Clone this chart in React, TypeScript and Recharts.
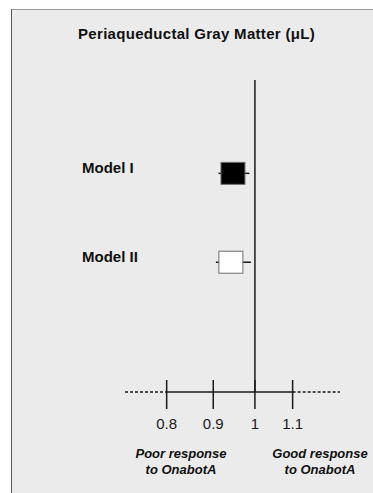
import React from 'react';
import { ScatterChart, Scatter, XAxis, YAxis, ReferenceLine, ErrorBar } from 'recharts';

const models = ['Model I', 'Model II'];
const estimates = [0.946, 0.941];
const lows = [0.912, 0.906];
const highs = [0.986, 0.99];
const rowPositions = [2, 1];
const boxFills = ['#000000', '#ffffff'];
const xTicks = [0.8, 0.9, 1, 1.1];
const xDomain = [0.72, 1.24];
const yDomain = [-0.46, 3.05];

const data = models.map((m, i) => ({
  model: m,
  x: estimates[i],
  y: rowPositions[i],
  err: [estimates[i] - lows[i], highs[i] - estimates[i]],
  fill: boxFills[i],
}));

const FONT = '"Liberation Sans", Arial, Helvetica, sans-serif';

const BoxShape = (props: any) => {
  const { cx, cy, payload } = props;
  return (
    <rect
      x={cx - 12}
      y={cy - 11}
      width={24}
      height={22}
      fill={payload.fill}
      stroke="#6e6e6e"
      strokeWidth={1}
    />
  );
};

const XTick = (props: any) => {
  const { x, y, payload } = props;
  return (
    <g>
      <line x1={x} x2={x} y1={y - 12} y2={y + 17} stroke="#1a1a1a" strokeWidth={1.5} />
      <text x={x} y={y + 37} textAnchor="middle" fontSize={15} fontFamily={FONT} fill="#1a1a1a">
        {String(payload.value)}
      </text>
    </g>
  );
};

const YTick = (props: any) => {
  const { y, payload } = props;
  const idx = rowPositions.indexOf(payload.value);
  return (
    <text x={82} y={y} textAnchor="start" fontSize={15} fontWeight="bold" fontFamily={FONT} fill="#111">
      {idx >= 0 ? models[idx] : ''}
    </text>
  );
};

export default function App() {
  return (
    <div style={{ position: 'absolute', left: 0, top: 0, width: 373, height: 493, background: '#ffffff', overflow: 'hidden' }}>
      <div
        style={{
          position: 'absolute',
          left: 11,
          top: 9,
          width: 362,
          height: 484,
          background: '#ebebeb',
          borderLeft: '1.5px solid #555',
          borderTop: '1px solid #999',
          boxSizing: 'border-box',
        }}
      />
      <svg width={373} height={493} style={{ position: 'absolute', left: 0, top: 0 }}>
        <text x={196.5} y={38.5} textAnchor="middle" fontSize={15} fontWeight="bold" fontFamily={FONT} letterSpacing={0.3} fill="#111">
          Periaqueductal Gray Matter (μL)
        </text>
        <g fontFamily={FONT} fontSize={13} fontWeight="bold" fontStyle="italic" fill="#111" textAnchor="middle">
          <text x={181} y={457.5}>Poor response</text>
          <text x={181} y={473.5}>to OnabotA</text>
          <text x={320} y={457.5}>Good response</text>
          <text x={320} y={473.5}>to OnabotA</text>
        </g>
      </svg>
      <div style={{ position: 'absolute', left: 0, top: 0 }}>
        <ScatterChart width={373} height={493} margin={{ top: 80, right: 33, bottom: 0, left: 0 }}>
          <XAxis
            type="number"
            dataKey="x"
            scale="log"
            domain={xDomain}
            ticks={xTicks}
            allowDataOverflow
            axisLine={false}
            tickLine={false}
            tickSize={0}
            tickMargin={0}
            height={101}
            tick={<XTick />}
            interval={0}
          />
          <YAxis
            type="number"
            dataKey="y"
            domain={yDomain}
            ticks={rowPositions}
            allowDataOverflow
            axisLine={false}
            tickLine={false}
            width={125}
            tick={<YTick />}
            interval={0}
          />
          <ReferenceLine x={1} stroke="#1a1a1a" strokeWidth={1.5} />
          <ReferenceLine
            segment={[{ x: xTicks[0], y: yDomain[0] }, { x: xTicks[xTicks.length - 1], y: yDomain[0] }]}
            stroke="#1a1a1a"
            strokeWidth={1.5}
          />
          <ReferenceLine
            segment={[{ x: xDomain[0], y: yDomain[0] }, { x: xTicks[0], y: yDomain[0] }]}
            stroke="#1a1a1a"
            strokeWidth={1.5}
            strokeDasharray="3 2"
          />
          <ReferenceLine
            segment={[{ x: xTicks[xTicks.length - 1], y: yDomain[0] }, { x: xDomain[1], y: yDomain[0] }]}
            stroke="#1a1a1a"
            strokeWidth={1.5}
            strokeDasharray="3 2"
          />
          <Scatter data={data} shape={<BoxShape />} isAnimationActive={false}>
            <ErrorBar dataKey="err" direction="x" width={0} stroke="#1a1a1a" strokeWidth={1.5} />
          </Scatter>
        </ScatterChart>
      </div>
    </div>
  );
}
